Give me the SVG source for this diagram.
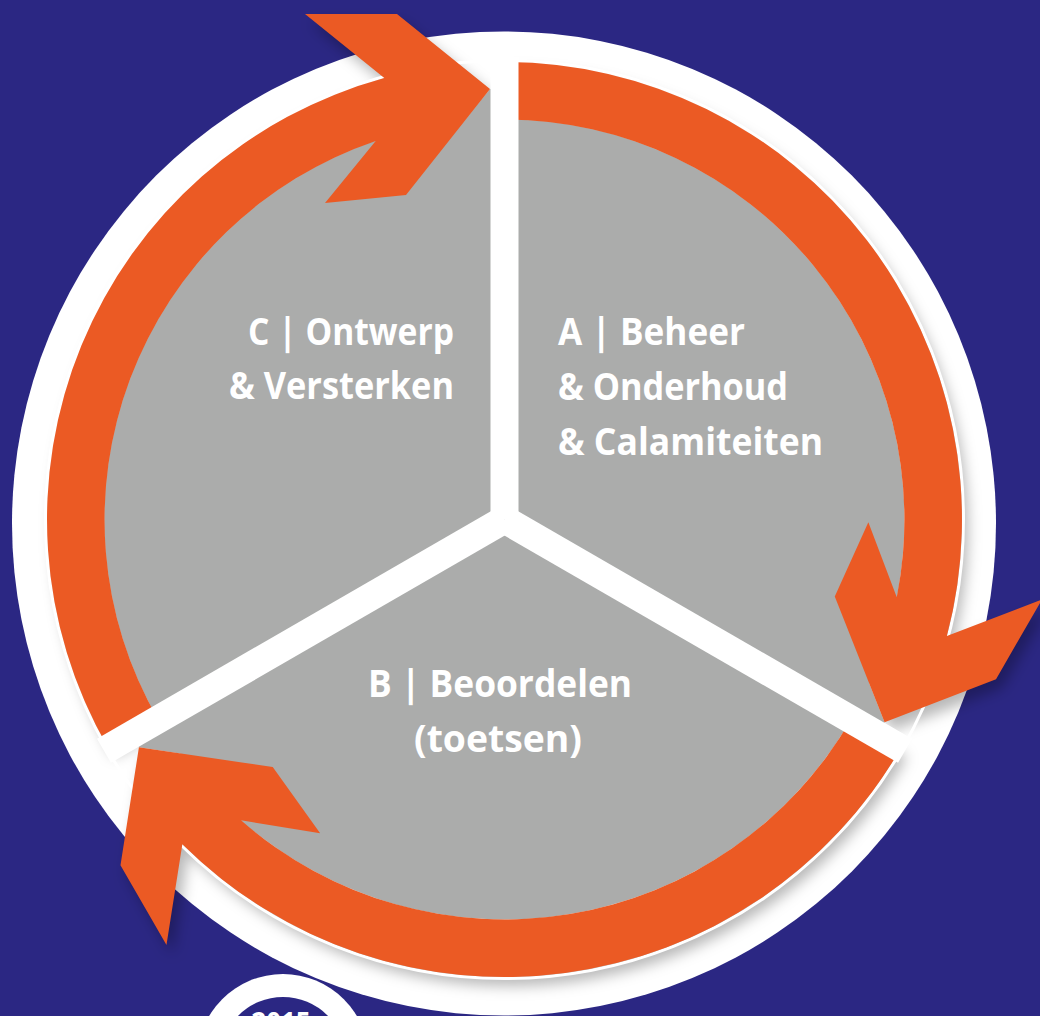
<svg xmlns="http://www.w3.org/2000/svg" width="1040" height="1016" viewBox="0 0 1040 1016">
<defs>
<style>
.bg{fill:#2b2783}
.disc{fill:#ffffff}
.sector{fill:#abacab}
.ring{fill:#eb5a24}
.divider{fill:#ffffff}
.lbl{font-family:"Open Sans","Noto Sans","Liberation Sans",sans-serif;font-weight:700;font-size:37px;fill:#ffffff}
.badge{font-family:"Open Sans","Noto Sans","Liberation Sans",sans-serif;font-weight:700;font-size:26px;fill:#ffffff}
</style>
<filter id="shadow" x="-0.1" y="-0.1" width="1.25" height="1.25">
<feGaussianBlur in="SourceAlpha" stdDeviation="7"/>
<feOffset dx="6" dy="9" result="b"/>
<feFlood flood-color="#000000" flood-opacity="0.28"/>
<feComposite in2="b" operator="in"/>
</filter>
<path id="seg-shape" d="M108.3,748.25 A457.5,457.5 0 0 1 384.3,78.1 L305,14 L397,14 L490,89 L406,195 L325,203 L375.7,140.9 A400,400 0 0 0 158.1,719.5 Z"/>
<path id="wedge-shape" d="M504.5,519.5 L158.1,719.5 A400,400 0 0 1 464.1,121.6 L490,89 L504.5,89 Z"/>
<rect id="divider-shape" x="490.5" y="57" width="28" height="462.5"/>
<g id="all-segs">
<use href="#seg-shape"/>
<use href="#seg-shape" transform="rotate(120 504.5 519.5)"/>
<use href="#seg-shape" transform="rotate(240 504.5 519.5)"/>
</g>
</defs>

<rect class="bg" x="0" y="0" width="1040" height="1016"/>
<circle class="disc" cx="504" cy="523.5" r="492"/>
<use href="#all-segs" filter="url(#shadow)"/>
<circle cx="504.5" cy="519.5" r="459" fill="none" stroke="#ffffff" stroke-width="3"/>

<g id="node-A">
<use class="sector" href="#wedge-shape" transform="rotate(120 504.5 519.5)"/>
<text class="lbl" x="558" y="345" textLength="187" lengthAdjust="spacingAndGlyphs">A | Beheer</text>
<text class="lbl" x="558" y="400" textLength="230" lengthAdjust="spacingAndGlyphs">&amp; Onderhoud</text>
<text class="lbl" x="558" y="455" textLength="265" lengthAdjust="spacingAndGlyphs">&amp; Calamiteiten</text>
</g>
<g id="node-B">
<use class="sector" href="#wedge-shape" transform="rotate(240 504.5 519.5)"/>
<text class="lbl" x="500" y="697" text-anchor="middle" textLength="264" lengthAdjust="spacingAndGlyphs">B | Beoordelen</text>
<text class="lbl" x="498" y="752" text-anchor="middle" textLength="168" lengthAdjust="spacingAndGlyphs">(toetsen)</text>
</g>
<g id="node-C">
<use class="sector" href="#wedge-shape"/>
<text class="lbl" x="454" y="345" text-anchor="end" textLength="206" lengthAdjust="spacingAndGlyphs">C | Ontwerp</text>
<text class="lbl" x="454" y="399" text-anchor="end" textLength="225" lengthAdjust="spacingAndGlyphs">&amp; Versterken</text>
</g>

<g id="connectors" class="ring">
<use id="arrow-C-to-A" href="#seg-shape"/>
<use id="arrow-A-to-B" href="#seg-shape" transform="rotate(120 504.5 519.5)"/>
<use id="arrow-B-to-C" href="#seg-shape" transform="rotate(240 504.5 519.5)"/>
</g>

<g id="dividers" class="divider">
<use href="#divider-shape"/>
<use href="#divider-shape" transform="rotate(120 504.5 519.5)"/>
<use href="#divider-shape" transform="rotate(240 504.5 519.5)"/>
</g>

<g id="badge-2015">
<circle cx="283" cy="1060" r="86" fill="#ffffff"/>
<circle cx="283" cy="1060" r="63" fill="#2b2783"/>
<text class="badge" x="281" y="1031" text-anchor="middle">2015</text>
</g>
</svg>
